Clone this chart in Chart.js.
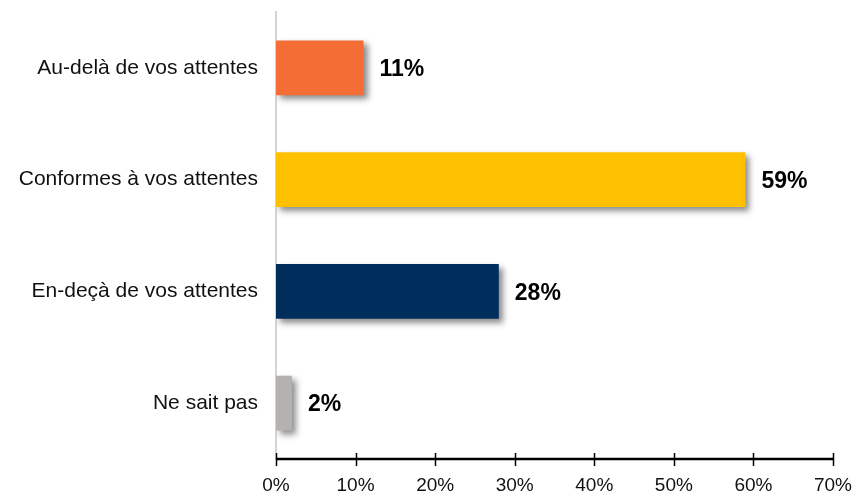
<!DOCTYPE html>
<html>
<head>
<meta charset="utf-8">
<script src="https://cdn.jsdelivr.net/npm/chart.js@4"></script>
<style>
  html, body { margin: 0; padding: 0; background: #fff; }
</style>
</head>
<body>
<canvas id="chart" width="856" height="494"></canvas>
<script>
const categories = ["Au-delà de vos attentes", "Conformes à vos attentes", "En-deçà de vos attentes", "Ne sait pas"];
const values = [11, 59, 28, 2];
const barColors = ["#F36D34", "#FFC000", "#002E5C", "#B5B1AF"];
const xTicks = [0, 10, 20, 30, 40, 50, 60, 70];

const FONT = "'Liberation Sans', Arial, sans-serif";

// soft drop shadow behind the bars
const barShadow = {
  id: "barShadow",
  beforeDatasetsDraw(chart) {
    const ctx = chart.ctx;
    ctx.save();
    ctx.shadowColor = "rgba(0,0,0,0.45)";
    ctx.shadowBlur = 6;
    ctx.shadowOffsetX = 4;
    ctx.shadowOffsetY = 4;
  },
  afterDatasetsDraw(chart) {
    chart.ctx.restore();
  }
};

// percentage next to each bar
const valueLabels = {
  id: "valueLabels",
  afterDatasetsDraw(chart) {
    const ctx = chart.ctx;
    const meta = chart.getDatasetMeta(0);
    ctx.save();
    ctx.font = "bold 23px " + FONT;
    ctx.fillStyle = "#000";
    ctx.textAlign = "left";
    ctx.textBaseline = "middle";
    meta.data.forEach((bar, i) => {
      ctx.fillText(values[i] + "%", bar.x + 16, bar.y + 2);
    });
    ctx.restore();
  }
};

// tick marks crossing the x axis line
const crossTicks = {
  id: "crossTicks",
  afterDraw(chart) {
    const ctx = chart.ctx;
    const x = chart.scales.x;
    const yPos = chart.chartArea.bottom;
    ctx.save();
    ctx.strokeStyle = "#000";
    ctx.lineWidth = 1.5;
    ctx.beginPath();
    xTicks.forEach(t => {
      const px = Math.round(x.getPixelForValue(t)) + 0.5;
      ctx.moveTo(px, yPos - 6);
      ctx.lineTo(px, yPos + 7);
    });
    ctx.stroke();
    ctx.lineWidth = 2.5;
    ctx.beginPath();
    ctx.moveTo(x.getPixelForValue(0), yPos);
    ctx.lineTo(x.getPixelForValue(70), yPos);
    ctx.stroke();
    ctx.restore();
  }
};

new Chart(document.getElementById("chart"), {
  type: "bar",
  data: {
    labels: categories,
    datasets: [{
      data: values,
      backgroundColor: barColors,
      borderWidth: 0,
      barPercentage: 0.49,
      categoryPercentage: 1
    }]
  },
  plugins: [barShadow, valueLabels, crossTicks],
  options: {
    indexAxis: "y",
    responsive: false,
    animation: false,
    devicePixelRatio: 1,
    layout: { padding: { top: 12, right: 23, bottom: 0, left: 0 } },
    plugins: { legend: { display: false }, tooltip: { enabled: false } },
    scales: {
      x: {
        min: 0,
        max: 70,
        afterBuildTicks(scale) {
          scale.ticks = xTicks.map(v => ({ value: v }));
        },
        afterFit(scale) {
          scale.height = 35;
          scale.paddingLeft = 0;
          scale.paddingRight = 0;
        },
        grid: { display: false, drawTicks: false },
        border: { display: false },
        ticks: {
          color: "#111",
          font: { family: FONT, size: 19 },
          padding: 15,
          maxRotation: 0,
          autoSkip: false,
          callback: v => v + "%"
        }
      },
      y: {
        afterFit(scale) {
          scale.width = 276;
          scale.paddingTop = 0;
          scale.paddingBottom = 0;
        },
        grid: { display: false, drawTicks: false },
        border: { display: true, color: "#D4D4D4", width: 2 },
        ticks: {
          color: "#111",
          font: { family: FONT, size: 21 },
          padding: 18,
          autoSkip: false
        }
      }
    }
  }
});
</script>
</body>
</html>
